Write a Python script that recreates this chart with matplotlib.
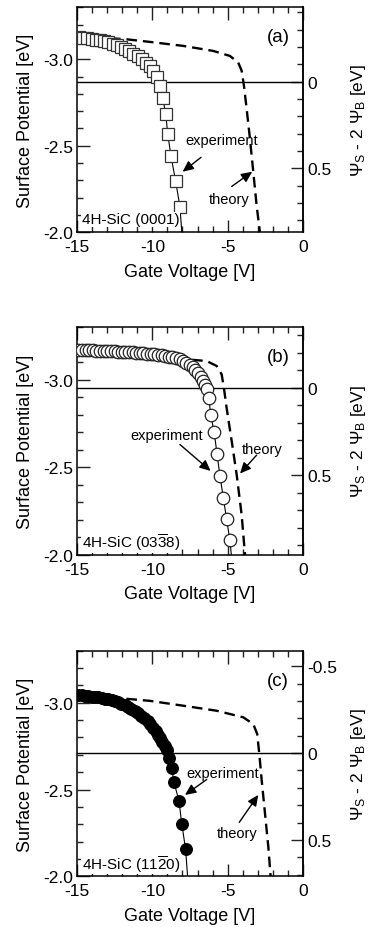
import matplotlib
matplotlib.use("Agg")
import matplotlib.pyplot as plt
from matplotlib.ticker import MultipleLocator, FuncFormatter

plt.rcParams['font.family'] = ['Liberation Sans', 'DejaVu Sans']
plt.rcParams['mathtext.fontset'] = 'custom'
plt.rcParams['mathtext.rm'] = 'Liberation Sans'
plt.rcParams['mathtext.it'] = 'Liberation Serif:italic'
plt.rcParams['axes.unicode_minus'] = False

# ---------------- data ----------------
# panel (a) 4H-SiC (0001)
a_exp_v = [-14.87, -14.58, -14.31, -14.03, -13.76, -13.47, -13.19, -12.92, -12.63, -12.37,
           -12.08, -11.81, -11.53, -11.26, -10.97, -10.71, -10.42, -10.16, -9.94, -9.71,
           -9.49, -9.31, -9.11, -8.98, -8.76, -8.45, -8.17, -8.0]
a_exp_sp = [-3.129, -3.125, -3.121, -3.117, -3.113, -3.110, -3.104, -3.098, -3.090, -3.083,
            -3.071, -3.060, -3.048, -3.033, -3.017, -3.000, -2.981, -2.958, -2.933, -2.898,
            -2.843, -2.776, -2.684, -2.569, -2.439, -2.295, -2.148, -1.95]
a_th_v = [-15.0, -13.5, -11.70, -10.16, -7.95, -5.96, -4.85, -4.30, -4.07, -3.92, -3.74,
          -3.52, -3.30, -3.08, -2.86, -2.80]
a_th_sp = [-3.135, -3.125, -3.115, -3.100, -3.077, -3.048, -3.019, -2.981, -2.933, -2.847,
           -2.713, -2.540, -2.349, -2.157, -2.000, -1.960]

# panel (b) 4H-SiC (03-38)
b_exp_v = [-14.91, -14.67, -14.43, -14.19, -13.95, -13.71, -13.47, -13.23, -12.99, -12.75,
           -12.51, -12.27, -12.03, -11.79, -11.55, -11.31, -11.07, -10.83, -10.59, -10.35,
           -10.11, -9.87, -9.63, -9.39, -9.15, -8.91, -8.67, -8.43, -8.19, -7.96,
           -7.74, -7.53, -7.33, -7.14, -6.96, -6.79, -6.62, -6.50, -6.39, -6.24,
           -6.13, -5.89, -5.71, -5.51, -5.29, -5.07, -4.85, -4.70]
b_exp_sp = [-3.172, -3.171, -3.170, -3.169, -3.168, -3.167, -3.166, -3.165, -3.164, -3.163,
            -3.162, -3.161, -3.160, -3.159, -3.157, -3.156, -3.154, -3.153, -3.151, -3.149,
            -3.147, -3.146, -3.144, -3.141, -3.137, -3.133, -3.128, -3.123, -3.116, -3.108,
            -3.098, -3.086, -3.072, -3.056, -3.037, -3.016, -2.992, -2.970, -2.948, -2.893,
            -2.801, -2.699, -2.577, -2.450, -2.326, -2.203, -2.082, -1.950]
b_th_v = [-15.0, -12.0, -9.5, -7.72, -6.39, -5.73, -5.40, -5.25, -5.07, -4.73, -4.40, -4.07,
          -3.85, -3.80]
b_th_sp = [-3.175, -3.162, -3.145, -3.117, -3.107, -3.079, -3.031, -2.954, -2.839, -2.648,
           -2.456, -2.226, -2.000, -1.970]

# panel (c) 4H-SiC (11-20)
c_exp_v = [-14.91, -14.69, -14.47, -14.25, -14.03, -13.81, -13.59, -13.37, -13.15, -12.93,
           -12.71, -12.49, -12.27, -12.05, -11.83, -11.61, -11.39, -11.17, -10.95, -10.73,
           -10.52, -10.32, -10.13, -9.95, -9.78, -9.62, -9.47, -9.33, -9.19, -9.05,
           -8.90, -8.72, -8.56, -8.23, -8.05, -7.79, -7.62]
c_exp_sp = [-3.044, -3.043, -3.041, -3.039, -3.036, -3.034, -3.031, -3.027, -3.023, -3.019,
            -3.014, -3.009, -3.003, -2.995, -2.985, -2.975, -2.964, -2.953, -2.941, -2.926,
            -2.910, -2.893, -2.875, -2.856, -2.836, -2.815, -2.795, -2.772, -2.749, -2.725,
            -2.681, -2.626, -2.541, -2.434, -2.304, -2.155, -1.950]
c_th_v = [-15.0, -12.81, -10.16, -7.95, -5.73, -3.96, -3.30, -3.04, -2.90, -2.74, -2.52,
          -2.30, -2.15, -2.10]
c_th_sp = [-3.050, -3.031, -3.011, -2.983, -2.954, -2.916, -2.877, -2.820, -2.705, -2.552,
           -2.360, -2.168, -2.000, -1.950]

panel_tags = ['(a)', '(b)', '(c)']
sample_labels = ['4H-SiC (0001)', r'4H-SiC (03$\overline{\mathrm{3}}$8)',
                 r'4H-SiC (11$\overline{\mathrm{2}}$0)']
zero_levels = [-2.87, -2.955, -2.71]   # surface potential where psi_S - 2 psi_B = 0
x_ticks = [-15, -10, -5, 0]
y_ticks = [-3.0, -2.5, -2.0]
right_ticks = [[0.0, 0.5], [0.0, 0.5], [-0.5, 0.0, 0.5]]

# annotation anchors (data coords): text centre, arrow tail, arrow head
exp_text = [(-5.40, -2.533), (-9.05, -2.684), (-5.33, -2.597)]
exp_tail = [(-6.77, -2.433), (-8.17, -2.630), (-6.39, -2.558)]
exp_head = [(-7.99, -2.350), (-6.13, -2.479), (-7.83, -2.469)]
th_text = [(-4.89, -2.192), (-2.68, -2.607), (-4.36, -2.251)]
th_tail = [(-4.73, -2.265), (-3.08, -2.569), (-4.23, -2.311)]
th_head = [(-3.37, -2.350), (-4.18, -2.464), (-2.97, -2.469)]

exp_v = [a_exp_v, b_exp_v, c_exp_v]
exp_sp = [a_exp_sp, b_exp_sp, c_exp_sp]
th_v = [a_th_v, b_th_v, c_th_v]
th_sp = [a_th_sp, b_th_sp, c_th_sp]
marker_style = [dict(marker='s', ms=8.0, mfc='white', mec='#333333', mew=0.9),
                dict(marker='o', ms=9.0, mfc='white', mec='#222222', mew=0.9),
                dict(marker='o', ms=8.4, mfc='black', mec='black', mew=0.9)]

# ---------------- figure ----------------
W, H = 369, 928
fig = plt.figure(figsize=(W / 100, H / 100), dpi=100)
boxes = [(77, 8.3, 303, 233.3), (77, 328.3, 303, 555.7), (77, 651.7, 303, 877.3)]

for i in range(3):
    x0, y0, x1, y1 = boxes[i]
    ax = fig.add_axes([x0 / W, 1 - y1 / H, (x1 - x0) / W, (y1 - y0) / H])
    ax.set_xlim(-15, 0)
    ax.set_ylim(-2.0, -3.3)

    z = zero_levels[i]
    ax.axhline(z, color='black', lw=1.0, zorder=1)
    ax.plot(th_v[i], th_sp[i], color='black', lw=1.7, dashes=(4.5, 2.5), zorder=2)
    ax.plot(exp_v[i], exp_sp[i], color='black', lw=0.8, zorder=3, **marker_style[i])

    ax.text(0.889, 0.87, panel_tags[i], transform=ax.transAxes, fontsize=13.5,
            ha='center', va='center', zorder=6)
    ax.text(-14.7, -2.075, sample_labels[i], fontsize=11, ha='left', va='center',
            zorder=5, bbox=dict(facecolor='white', edgecolor='none', pad=0.5))

    ax.text(*exp_text[i], 'experiment', fontsize=10.5, ha='center', va='center', zorder=6)
    ax.text(*th_text[i], 'theory', fontsize=10.5, ha='center', va='center', zorder=6)
    for tail, head in [(exp_tail[i], exp_head[i]), (th_tail[i], th_head[i])]:
        ax.annotate('', xy=head, xytext=tail, zorder=6,
                    arrowprops=dict(arrowstyle='-|>,head_length=0.65,head_width=0.3',
                                    color='black', lw=1.0, shrinkA=0, shrinkB=0))

    ax.set_xticks(x_ticks)
    ax.set_xticklabels([str(t) for t in x_ticks])
    ax.xaxis.set_minor_locator(MultipleLocator(1))
    ax.set_yticks(y_ticks)
    ax.set_yticklabels([f'{t:.1f}' for t in y_ticks])
    ax.yaxis.set_minor_locator(MultipleLocator(0.1))
    ax.tick_params(which='both', direction='in', top=True, right=False, width=1.0,
                   labelsize=12.5, color='#222222')
    ax.tick_params(axis='x', which='both', pad=5)
    ax.tick_params(axis='y', which='both', pad=3)
    ax.tick_params(which='major', length=9)
    ax.tick_params(which='minor', length=4.5)
    for s in ax.spines.values():
        s.set_linewidth(1.1)

    ax.set_xlabel('Gate Voltage [V]', fontsize=13)
    ax.xaxis.set_label_coords(0.5, -0.135)
    ax.set_ylabel('Surface Potential [eV]', fontsize=13)
    ax.yaxis.set_label_coords(-0.19, 0.5)

    sec = ax.secondary_yaxis('right', functions=(lambda y, z=z: y - z,
                                                   lambda p, z=z: p + z))
    sec.set_yticks(right_ticks[i])
    sec.yaxis.set_major_formatter(FuncFormatter(lambda v, p: '0' if abs(v) < 1e-9 else f'{v:.1f}'))
    sec.yaxis.set_minor_locator(MultipleLocator(0.1))
    sec.tick_params(which='both', direction='in', width=1.0, labelsize=12.5, pad=3,
                    color='#222222')
    sec.tick_params(which='major', length=9)
    sec.tick_params(which='minor', length=4.5)
    sec.spines['right'].set_linewidth(1.1)
    sec.set_ylabel(r'$\mathit{\Psi}_{\mathrm{S}}$ - 2 $\mathit{\Psi}_{\mathrm{B}}$ [eV]',
                   fontsize=12.5)
    sec.yaxis.set_label_coords(1.205, 0.5, transform=ax.transAxes)

fig.savefig('out.png', dpi=100)
